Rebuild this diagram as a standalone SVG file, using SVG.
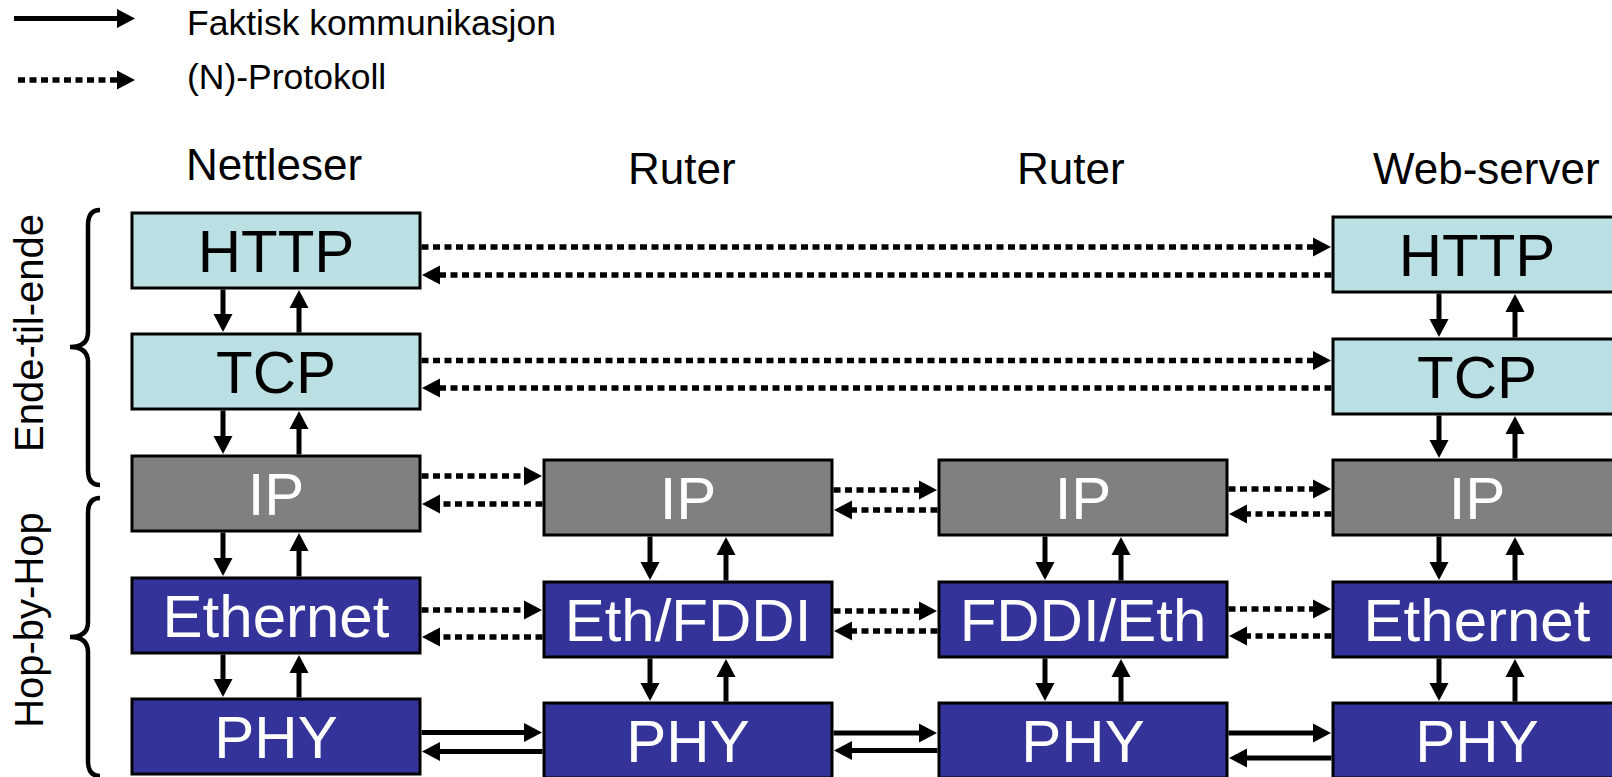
<svg xmlns="http://www.w3.org/2000/svg" width="1612" height="777" viewBox="0 0 1612 777">
<style>
text{font-family:"Liberation Sans",Arial,sans-serif}
.lbl{font-size:60px;text-anchor:middle}
.hdr{font-size:44px;fill:#000}
.leg{font-size:35.5px;fill:#000}
.side{font-size:40px;fill:#000;text-anchor:middle}
.b{stroke:#000;stroke-width:3}
.app{fill:#BBE0E3}
.net{fill:#808080}
.lnk{fill:#333399}
.dk{fill:#000}
.wt{fill:#fff}
.s{stroke:#000;stroke-width:5;fill:none;marker-end:url(#ah)}
.d{stroke:#000;stroke-width:5.5;fill:none;stroke-dasharray:7 4.5;marker-end:url(#ah)}
.br{stroke:#000;stroke-width:4.5;fill:none}
</style>
<defs>
<marker id="ah" markerUnits="userSpaceOnUse" markerWidth="19" markerHeight="19" refX="9" refY="9.5" orient="auto" overflow="visible">
<path d="M0,0 L18,9.5 L0,19 z" fill="#000"/>
</marker>
</defs>
<rect width="1612" height="777" fill="#fff"/>

<g id="legend">
<line class="s" x1="14" y1="18.5" x2="126" y2="18.5"/>
<line class="d" x1="18" y1="80" x2="126" y2="80"/>
<text class="leg" x="187" y="35">Faktisk kommunikasjon</text>
<text class="leg" x="187" y="89">(N)-Protokoll</text>
</g>

<g id="headers">
<text class="hdr" x="186" y="180">Nettleser</text>
<text class="hdr" x="628" y="184">Ruter</text>
<text class="hdr" x="1017" y="184">Ruter</text>
<text class="hdr" x="1373" y="184">Web-server</text>
</g>

<g id="braces">
<path class="br" d="M100,210 Q88,210 88,225 L88,332 Q88,347 70,347 Q88,347 88,362 L88,470 Q88,485 100,485"/>
<path class="br" d="M100,498 Q88,498 88,513 L88,622 Q88,637 70,637 Q88,637 88,652 L88,761 Q88,776 100,776"/>
<text class="side" transform="translate(43,333) rotate(-90)">Ende-til-ende</text>
<text class="side" transform="translate(43,620) rotate(-90)">Hop-by-Hop</text>
</g>

<g id="host-http"><rect class="b app" x="132" y="213" width="288" height="75"/><text class="lbl dk" x="276" y="272">HTTP</text></g>
<g id="host-tcp"><rect class="b app" x="132" y="334" width="288" height="75"/><text class="lbl dk" x="276" y="393">TCP</text></g>
<g id="host-ip"><rect class="b net" x="132" y="456" width="288" height="75"/><text class="lbl wt" x="276" y="515">IP</text></g>
<g id="host-eth"><rect class="b lnk" x="132" y="578" width="288" height="75"/><text class="lbl wt" x="276" y="637">Ethernet</text></g>
<g id="host-phy"><rect class="b lnk" x="132" y="699" width="288" height="75"/><text class="lbl wt" x="276" y="758">PHY</text></g>

<g id="r1-ip"><rect class="b net" x="544" y="460" width="288" height="75"/><text class="lbl wt" x="688" y="519">IP</text></g>
<g id="r1-eth"><rect class="b lnk" x="544" y="582" width="288" height="75"/><text class="lbl wt" x="688" y="641">Eth/FDDI</text></g>
<g id="r1-phy"><rect class="b lnk" x="544" y="703" width="288" height="75"/><text class="lbl wt" x="688" y="762">PHY</text></g>

<g id="r2-ip"><rect class="b net" x="939" y="460" width="288" height="75"/><text class="lbl wt" x="1083" y="519">IP</text></g>
<g id="r2-eth"><rect class="b lnk" x="939" y="582" width="288" height="75"/><text class="lbl wt" x="1083" y="641">FDDI/Eth</text></g>
<g id="r2-phy"><rect class="b lnk" x="939" y="703" width="288" height="75"/><text class="lbl wt" x="1083" y="762">PHY</text></g>

<g id="web-http"><rect class="b app" x="1333" y="217" width="288" height="75"/><text class="lbl dk" x="1477" y="276">HTTP</text></g>
<g id="web-tcp"><rect class="b app" x="1333" y="339" width="288" height="75"/><text class="lbl dk" x="1477" y="398">TCP</text></g>
<g id="web-ip"><rect class="b net" x="1333" y="460" width="288" height="75"/><text class="lbl wt" x="1477" y="519">IP</text></g>
<g id="web-eth"><rect class="b lnk" x="1333" y="582" width="288" height="75"/><text class="lbl wt" x="1477" y="641">Ethernet</text></g>
<g id="web-phy"><rect class="b lnk" x="1333" y="703" width="288" height="75"/><text class="lbl wt" x="1477" y="762">PHY</text></g>

<g id="connectors">
<line class="s" x1="223" y1="289.5" x2="223" y2="323"/>
<line class="s" x1="299" y1="332.5" x2="299" y2="299"/>
<line class="s" x1="223" y1="410.5" x2="223" y2="445"/>
<line class="s" x1="299" y1="454.5" x2="299" y2="420"/>
<line class="s" x1="223" y1="532.5" x2="223" y2="567"/>
<line class="s" x1="299" y1="576.5" x2="299" y2="542"/>
<line class="s" x1="223" y1="654.5" x2="223" y2="688"/>
<line class="s" x1="299" y1="697.5" x2="299" y2="664"/>
<line class="s" x1="650" y1="536.5" x2="650" y2="571"/>
<line class="s" x1="726" y1="580.5" x2="726" y2="546"/>
<line class="s" x1="650" y1="658.5" x2="650" y2="692"/>
<line class="s" x1="726" y1="701.5" x2="726" y2="668"/>
<line class="s" x1="1045" y1="536.5" x2="1045" y2="571"/>
<line class="s" x1="1121" y1="580.5" x2="1121" y2="546"/>
<line class="s" x1="1045" y1="658.5" x2="1045" y2="692"/>
<line class="s" x1="1121" y1="701.5" x2="1121" y2="668"/>
<line class="s" x1="1439" y1="293.5" x2="1439" y2="328"/>
<line class="s" x1="1515" y1="337.5" x2="1515" y2="303"/>
<line class="s" x1="1439" y1="415.5" x2="1439" y2="449"/>
<line class="s" x1="1515" y1="458.5" x2="1515" y2="425"/>
<line class="s" x1="1439" y1="536.5" x2="1439" y2="571"/>
<line class="s" x1="1515" y1="580.5" x2="1515" y2="546"/>
<line class="s" x1="1439" y1="658.5" x2="1439" y2="692"/>
<line class="s" x1="1515" y1="701.5" x2="1515" y2="668"/>

<line class="d" x1="421.5" y1="247" x2="1322" y2="247"/>
<line class="d" x1="1331.5" y1="275" x2="431" y2="275"/>
<line class="d" x1="421.5" y1="360.5" x2="1322" y2="360.5"/>
<line class="d" x1="1331.5" y1="388" x2="431" y2="388"/>
<line class="d" x1="421.5" y1="476" x2="533" y2="476"/>
<line class="d" x1="542.5" y1="504" x2="431" y2="504"/>
<line class="d" x1="833.5" y1="490" x2="928" y2="490"/>
<line class="d" x1="937.5" y1="510" x2="843" y2="510"/>
<line class="d" x1="1228.5" y1="489" x2="1322" y2="489"/>
<line class="d" x1="1331.5" y1="514" x2="1238" y2="514"/>
<line class="d" x1="421.5" y1="610" x2="533" y2="610"/>
<line class="d" x1="542.5" y1="637" x2="431" y2="637"/>
<line class="d" x1="833.5" y1="611" x2="928" y2="611"/>
<line class="d" x1="937.5" y1="631" x2="843" y2="631"/>
<line class="d" x1="1228.5" y1="609" x2="1322" y2="609"/>
<line class="d" x1="1331.5" y1="636" x2="1238" y2="636"/>
<line class="s" x1="421.5" y1="732.5" x2="533" y2="732.5"/>
<line class="s" x1="542.5" y1="751.5" x2="431" y2="751.5"/>
<line class="s" x1="833.5" y1="733" x2="928" y2="733"/>
<line class="s" x1="937.5" y1="750.5" x2="843" y2="750.5"/>
<line class="s" x1="1228.5" y1="733" x2="1322" y2="733"/>
<line class="s" x1="1331.5" y1="758" x2="1238" y2="758"/>
</g>
</svg>
